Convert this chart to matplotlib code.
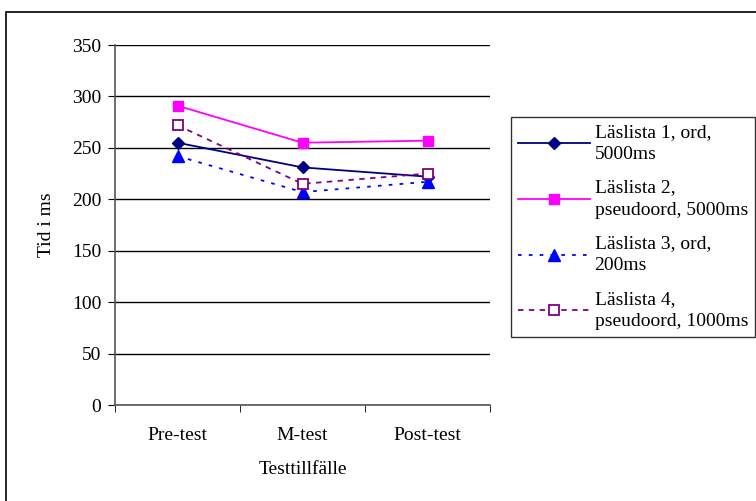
import matplotlib.pyplot as plt
from matplotlib.patches import Rectangle

plt.rcParams['font.family'] = ['Liberation Serif', 'DejaVu Serif']

categories = ['Pre-test', 'M-test', 'Post-test']
lista1 = [255, 231, 222]
lista2 = [291, 255, 257]
lista3 = [242, 207, 217]
lista4 = [272, 215, 225]
labels = ['Läslista 1, ord,\n5000ms', 'Läslista 2,\npseudoord, 5000ms',
          'Läslista 3, ord,\n200ms', 'Läslista 4,\npseudoord, 1000ms']
yticks = [0, 50, 100, 150, 200, 250, 300, 350]

W, H = 756, 501
fig = plt.figure(figsize=(W / 100, H / 100), dpi=100)
ax = fig.add_axes([115 / W, 1 - 405 / H, 375 / W, 360 / H])

# outer chart border
fig.patches.append(Rectangle((6 / W, -0.01), 1.0, 1 - 12 / H + 0.01, transform=fig.transFigure,
                             fill=False, edgecolor='black', linewidth=1.2))

x = range(len(categories))
ax.plot(x, lista1, color='#000080', marker='D', markersize=6, linewidth=1.3, label=labels[0])
ax.plot(x, lista2, color='#FF00FF', marker='s', markersize=7, linewidth=1.3, label=labels[1])
ax.plot(x, lista3, color='#0000FF', marker='^', markersize=8, linewidth=1.3,
        linestyle=(0, (2, 4)), label=labels[2])
ax.plot(x, lista4, color='#800080', marker='s', markersize=7, markerfacecolor='white',
        markeredgewidth=1.3, linewidth=1.3, linestyle=(0, (3, 3)), label=labels[3])

ax.set_xlim(-0.5, 2.5)
ax.set_ylim(0, 350)
ax.set_yticks(yticks)
ax.set_xticks(list(x))
ax.set_xticklabels(categories, fontsize=14)
ax.set_xticks([-0.5, 0.5, 1.5, 2.5], minor=True)
ax.tick_params(axis='x', which='major', length=0, pad=16)
ax.tick_params(axis='x', which='minor', length=5, direction='out')
ax.tick_params(axis='y', length=5, direction='out', labelsize=14, pad=5)
ax.yaxis.grid(True, color='black', linewidth=1)
ax.set_axisbelow(True)
for s in ['top', 'right']:
    ax.spines[s].set_visible(False)
ax.spines['left'].set_color('#555555')
ax.spines['bottom'].set_color('#555555')
ax.spines['left'].set_linewidth(1.2)
ax.spines['bottom'].set_linewidth(1.2)

ax.set_xlabel('Testtillfälle', fontsize=14, labelpad=12)
ax.set_ylabel('Tid i ms', fontsize=14, labelpad=12)

leg = fig.legend(loc='upper left', bbox_to_anchor=(511 / W, 1 - 117 / H), borderaxespad=0,
                 fontsize=14, frameon=True, fancybox=False, edgecolor='black',
                 handlelength=3.7, labelspacing=0.85, borderpad=0.35, handletextpad=0.25)
leg.get_frame().set_linewidth(1)
for t in leg.get_texts():
    t.set_linespacing(1.4)

fig.savefig('out.png', dpi=100)
